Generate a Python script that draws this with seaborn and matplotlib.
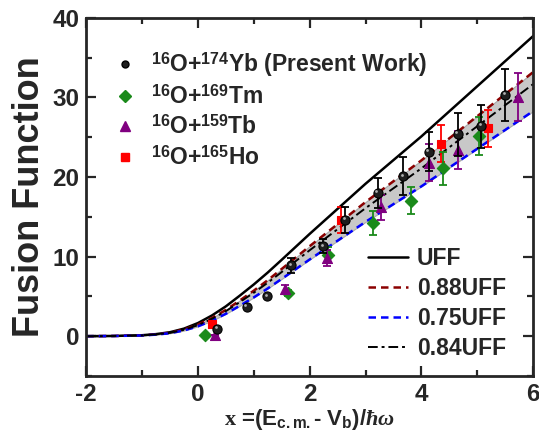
import numpy as np
import pandas as pd
import matplotlib
matplotlib.use("Agg")
import matplotlib.pyplot as plt
import seaborn as sns
from matplotlib.ticker import MultipleLocator
from matplotlib.lines import Line2D

# ---- theory curve (UFF values) ----
uff_x = [-2, -1.5, -1, -0.75, -0.5, -0.25, 0, 0.25, 0.5, 0.75, 1, 1.25, 1.5, 2, 3, 4, 5, 6]
uff_y = [0.0, 0.03, 0.12, 0.26, 0.5, 0.95, 1.65, 2.6, 3.75, 5.1, 6.5, 8.0, 9.6,
         12.85, 19.15, 25.1, 31.4, 37.7]
scale_labels = ["UFF", "0.88UFF", "0.75UFF", "0.84UFF"]
scale_factors = [1.0, 0.88, 0.75, 0.84]

# ---- data ----
yb_x = [0.34, 0.87, 1.24, 1.67, 2.24, 2.64, 3.22, 3.67, 4.13, 4.65, 5.07, 5.50]
yb_y = [0.96, 3.7, 5.0, 8.9, 11.3, 14.6, 18.0, 20.1, 23.2, 25.4, 26.4, 30.3]
yb_e = [0.0, 0.0, 0.0, 0.9, 0.9, 1.6, 1.9, 2.4, 2.5, 2.7, 2.7, 3.3]

tm_x = [0.12, 1.62, 2.32, 3.13, 3.81, 4.38, 5.03]
tm_y = [0.1, 5.4, 10.25, 14.2, 17.0, 21.1, 25.2]
tm_e = [0.0, 0.4, 1.0, 1.5, 1.7, 2.1, 2.4]

tb_x = [0.31, 1.56, 2.31, 3.27, 4.14, 4.65, 5.73]
tb_y = [0.1, 5.9, 9.8, 16.2, 21.8, 23.4, 30.1]
tb_e = [0.0, 0.5, 1.0, 1.6, 2.3, 2.4, 3.0]

ho_x = [0.25, 2.57, 4.35, 5.20]
ho_y = [1.5, 14.6, 24.2, 26.1]
ho_e = [0.0, 1.6, 2.3, 2.3]

series_labels = [r"$^{\mathrm{16}}$O+$^{\mathrm{174}}$Yb (Present Work)",
                 r"$^{\mathrm{16}}$O+$^{\mathrm{169}}$Tm",
                 r"$^{\mathrm{16}}$O+$^{\mathrm{159}}$Tb",
                 r"$^{\mathrm{16}}$O+$^{\mathrm{165}}$Ho"]

sns.set_theme(style="ticks")
plt.rcParams['font.family'] = ['Liberation Sans', 'DejaVu Sans']
plt.rcParams['font.weight'] = 'bold'
plt.rcParams['axes.unicode_minus'] = False
plt.rcParams['mathtext.fontset'] = 'custom'
plt.rcParams['mathtext.rm'] = 'Liberation Sans:bold'
plt.rcParams['mathtext.bf'] = 'Liberation Serif:bold'
plt.rcParams['mathtext.it'] = 'Liberation Serif:bold:italic'

fig = plt.figure(figsize=(5.39, 4.46), dpi=100)
ax = fig.add_axes([0.160, 0.157, 0.829, 0.803])

ux = np.array(uff_x)
uy = np.array(uff_y)
curves = pd.DataFrame({"x": np.tile(ux, 4),
                       "y": np.concatenate([uy * f for f in scale_factors]),
                       "curve": np.repeat(scale_labels, len(ux))})

# shaded band between 0.75UFF and 0.88UFF
ax.fill_between(ux, uy * 0.75, uy * 0.88, color="#c8c8c8", edgecolor="#a8a8a8", lw=0.8, zorder=1)

styles = {"UFF": dict(color="black", ls="-", lw=1.8),
          "0.88UFF": dict(color="#8b0000", ls=(0, (3, 2)), lw=1.8),
          "0.75UFF": dict(color="#0000ff", ls=(0, (3, 2)), lw=1.8),
          "0.84UFF": dict(color="black", ls=(0, (5, 2, 1.5, 2)), lw=1.4)}
line_handles = []
for lab in scale_labels:
    sub = curves[curves.curve == lab]
    sns.lineplot(data=sub, x="x", y="y", ax=ax, zorder=2, legend=False, **styles[lab])
    line_handles.append(Line2D([], [], **styles[lab]))

sets = [(yb_x, yb_y, yb_e, "o", "#1e1e1e", "black", "black", 6.6, 5.0),
        (tm_x, tm_y, tm_e, "D", "#1a8a1a", "#1a8a1a", "#1a8a1a", 6.3, 6.3),
        (tb_x, tb_y, tb_e, "^", "#800080", "#800080", "#800080", 7.2, 6.8),
        (ho_x, ho_y, ho_e, "s", "#ff0000", "#ff0000", "#ff0000", 6.0, 5.2)]
order_z = [6, 4, 5, 3]
pt_handles = []
for (xs, ys, es, m, fc, ec, ecol, ms, lms), z in zip(sets, order_z):
    df = pd.DataFrame({"x": xs, "y": ys, "e": es})
    ax.errorbar(df.x, df.y, yerr=df.e, fmt="none", ecolor=ecol, elinewidth=1.3,
                capsize=2.8, capthick=1.3, zorder=z)
    sns.scatterplot(data=df, x="x", y="y", marker=m, s=ms ** 2, color=fc,
                    edgecolor=ec, linewidth=0.8, ax=ax, zorder=z + 0.5, legend=False)
    if m == "o":
        ax.scatter(df.x - 0.025, df.y + 0.2, s=4, color="#b0b0b0", zorder=z + 0.6, lw=0)
    pt_handles.append(Line2D([], [], marker=m, ls="none", color=fc, mec=ec, ms=lms))

ax.set_xlim(-2, 6)
ax.set_ylim(-5, 40)
ax.xaxis.set_major_locator(MultipleLocator(2))
ax.xaxis.set_minor_locator(MultipleLocator(1))
ax.yaxis.set_minor_locator(MultipleLocator(5))
ax.set_yticks([0, 10, 20, 30, 40])
ax.tick_params(which="both", direction="in", top=True, right=True, width=1.6)
ax.tick_params(which="major", length=7, labelsize=17.5, pad=5)
ax.tick_params(which="minor", length=4)
for lab in ax.get_xticklabels() + ax.get_yticklabels():
    lab.set_fontweight("bold")
for sp in ax.spines.values():
    sp.set_linewidth(2)

ax.set_ylabel("Fusion Function", fontsize=26, fontweight="bold", labelpad=4)
ax.set_xlabel(r"$\mathbf{x}$ =(E$_{\mathrm{c.m.}}$- V$_{\mathrm{b}}$)/$\hbar\omega$", fontsize=16,
              fontweight="bold", labelpad=1)

leg1 = ax.legend(pt_handles, series_labels, loc="upper left", bbox_to_anchor=(0.056, 0.91),
                 frameon=False, handletextpad=0.55, labelspacing=0.28, borderpad=0,
                 borderaxespad=0, handlelength=1.2, prop={"weight": "bold", "size": 16.5})
ax.add_artist(leg1)
ax.legend(line_handles, scale_labels, loc="lower left", bbox_to_anchor=(0.63, 0.045),
          frameon=False, prop={"weight": "bold", "size": 16.5}, handlelength=1.75,
          labelspacing=0.3, handletextpad=0.4, borderpad=0, borderaxespad=0)

fig.savefig("out.png", dpi=100)
